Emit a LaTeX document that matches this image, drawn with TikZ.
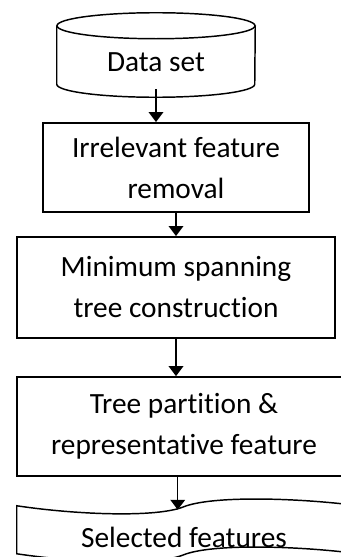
\documentclass[tikz,border=0pt]{standalone}
\usepackage{fontspec}
\setmainfont{Carlito}[Ligatures=NoCommon]
\usetikzlibrary{arrows.meta,positioning,calc}
\tikzset{
  base/.style={align=center,inner sep=0pt,
    font=\fontsize{22}{30.75}\selectfont},
  store/.style={base,rectangle,minimum width=148.5pt,minimum height=63pt,
    text height=25pt,text depth=0pt},
  proc/.style={base,draw=black,rectangle,line width=1.4pt},
  tapebox/.style={base,rectangle,minimum width=250.5pt,minimum height=33.75pt,
    text height=27.8pt,text depth=0pt},
  outline/.style={draw=black,line width=1.1pt},
  arrow/.style={-{Triangle[length=7.5pt,width=11pt]},draw=black,line width=1.1pt}
}
\begin{document}
\begin{tikzpicture}
  \useasboundingbox (0,0) rectangle (255.75pt,-417.75pt);
  \node[store] (ds) at (117pt,-41.25pt) {Data set};
  \node[proc,minimum width=199.5pt,minimum height=66.75pt] (irr)
    at (132pt,-125.6pt) {Irrelevant feature\\removal};
  \node[proc,minimum width=238.5pt,minimum height=75.75pt] (mst)
    at (132pt,-215.6pt) {Minimum spanning\\tree construction};
  \node[proc,minimum width=250.5pt,minimum height=74.25pt] (part)
    at (138pt,-319.9pt) {Tree partition \&\\representative feature};
  \node[tapebox] (sel) at (138pt,-396.4pt) {Selected features};
  % data store
  \draw[outline] ([yshift=-9.75pt]ds.north) ellipse [x radius=74.25pt,y radius=9.75pt];
  \draw[outline] ([yshift=-9.75pt]ds.north west) -- ([yshift=9.75pt]ds.south west)
    arc[start angle=180,end angle=360,x radius=74.25pt,y radius=9.75pt]
    -- ([yshift=-9.75pt]ds.north east);
  % punched tape
  \begin{scope}[shift={(sel.north west)},x=0.75pt,y=-0.75pt]
    \draw[outline] (0,0) .. controls (60,9) and (140,12) .. (167,1)
      .. controls (195,-10) and (275,-8) .. (334,-1) -- (334,47)
      .. controls (275,40) and (195,38) .. (167,49)
      .. controls (140,60) and (60,57) .. (0,48) -- cycle;
    \coordinate (selin) at (161,4);
  \end{scope}
  \coordinate (dsout) at ($(ds.south)+(0,6pt)$);
  \draw[arrow] (dsout) -- (dsout |- irr.north);
  \draw[arrow] (irr.south) -- (mst.north);
  \draw[arrow] (mst.south) -- (mst.south |- part.north);
  \draw[arrow] (part.south -| selin) -- (selin);
\end{tikzpicture}
\end{document}
